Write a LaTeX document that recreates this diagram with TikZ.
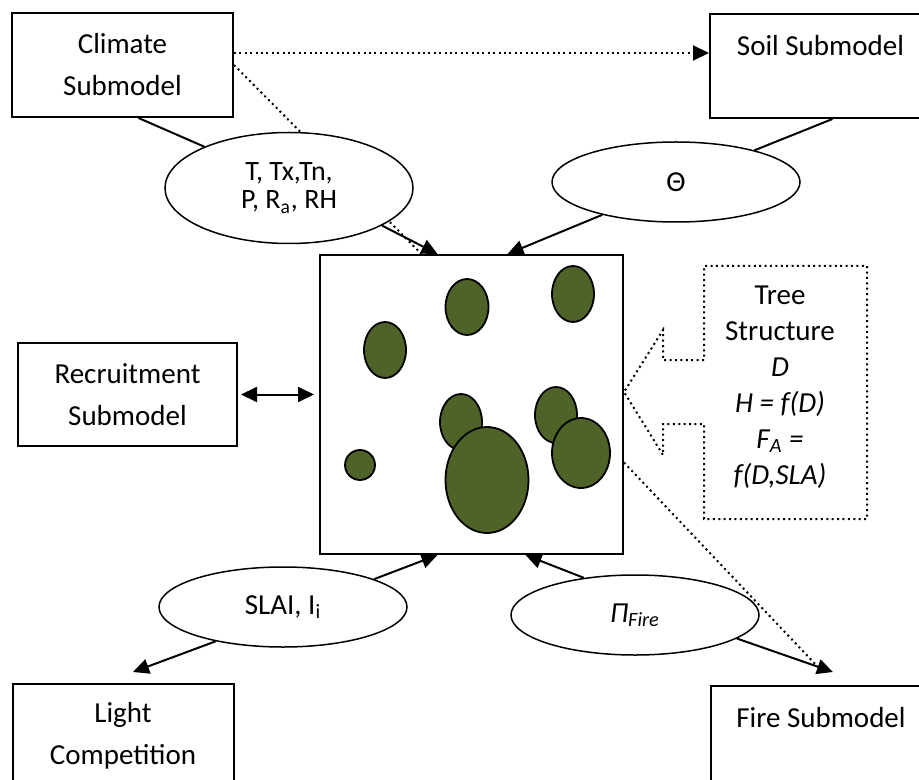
\documentclass[tikz,border=0pt]{standalone}
\usepackage{fontspec}
\setmainfont{Carlito}
\usetikzlibrary{shapes.geometric,arrows.meta}
\definecolor{crowngreen}{HTML}{4F6228}
\tikzset{
  model/.style={draw, line width=1pt, minimum width=110.5pt, minimum height=52pt, inner sep=0pt, align=center, font=\fontsize{14.5}{21}\selectfont},
  flux/.style={draw, ellipse, fill=white, line width=0.75pt, minimum width=124pt, minimum height=40pt, inner sep=0pt, align=center, font=\fontsize{14.5}{15}\selectfont},
  link/.style={line width=1pt},
  feeds/.style={-{Triangle[length=8pt,width=7.5pt]}},
  hint/.style={line width=1pt, dash pattern=on 1pt off 1.7pt},
  crown/.style={draw, fill=crowngreen, line width=0.9pt}
}
\begin{document}
\begin{tikzpicture}[x=0.5pt, y=-0.5pt]
\useasboundingbox (0,0) rectangle (919,780);
\clip (0,0) rectangle (919,780);
\node[model] (climate) at (122.5,65) {Climate\\Submodel};
\node[model] (soil) at (820.5,66) {Soil Submodel\\~};
\node[model, minimum width=109.5pt, minimum height=51.5pt] (recruit) at (127.5,394.5) {Recruitment\\Submodel};
\node[model] (light) at (123,736) {Light\\Competition};
\node[model] (fire) at (821,738) {Fire Submodel\\~};
\node[draw, line width=1pt, minimum width=151.5pt, minimum height=149.5pt] (plot) at (471.5,404.5) {};
\foreach \cx/\cy/\rx/\ry in {385/350/21/28, 467/307/21.5/28, 573/294/21/28, 360/465/15/15, 461/422/21/28, 487/480/41.5/53, 556/415/21/28, 581/453/29/35}
  \draw[crown] (\cx,\cy) ellipse [x radius=\rx, y radius=\ry];
\draw[hint] (climate.east) -- ([xshift=-25pt]plot.north);
\node[flux, minimum height=55.5pt, font=\fontsize{14}{14}\selectfont] (tclim) at (289,188) {T, Tx,Tn,\\P, R\textsubscript{a}, RH};
\node[flux] (theta) at (676,182) {Θ};
\node[flux] (slai) at (283,607) {SLAI, I\textsubscript{i}};
\node[flux] (pfire) at (635,615) {\textit{Π\textsubscript{Fire}}};
\node[align=center, font=\fontsize{14.5}{18}\selectfont] (trait) at (780,387) {Tree\\Structure\\\textit{D}\\\textit{H = f(D)}\\\textit{F\textsubscript{A} =}\\\textit{f(D,SLA)}};
\draw[hint] (704,360) -- (663,360) -- (663,330) -- (624,392) -- (663,455) -- (663,424) -- (704,424) -- (704,519) -- (867,519) -- (867,266) -- (704,266) -- cycle;
\draw[link] ([xshift=8pt]climate.south) -- (tclim.154);
\draw[link, feeds] (tclim.-22) -- ([xshift=-17pt]plot.north);
\draw[hint, feeds] ([yshift=6pt]climate.east) -- ([yshift=6.5pt]soil.west);
\draw[link] ([xshift=6pt]soil.south) -- (theta.22);
\draw[link, feeds] (theta.204) -- ([xshift=18pt]plot.north);
\draw[link, {Triangle[length=8pt,width=7.5pt]}-{Triangle[length=8pt,width=7.5pt]}, shorten <=1.5pt, shorten >=2.5pt] (recruit.east) -- (recruit.east -| plot.west);
\draw[link, feeds] (slai.17) -- ([xshift=-17pt]plot.south);
\draw[link, feeds] (slai.207) -- ([xshift=5pt,yshift=5.5pt]light.north);
\draw[link, feeds] (pfire.144) -- ([xshift=27pt]plot.south);
\draw[link, feeds] (pfire.-13) -- ([xshift=6pt,yshift=6.5pt]fire.north);
\draw[hint] ([yshift=-29pt]plot.east) -- ([xshift=-1.5pt,yshift=9pt]fire.north);
\end{tikzpicture}
\end{document}
